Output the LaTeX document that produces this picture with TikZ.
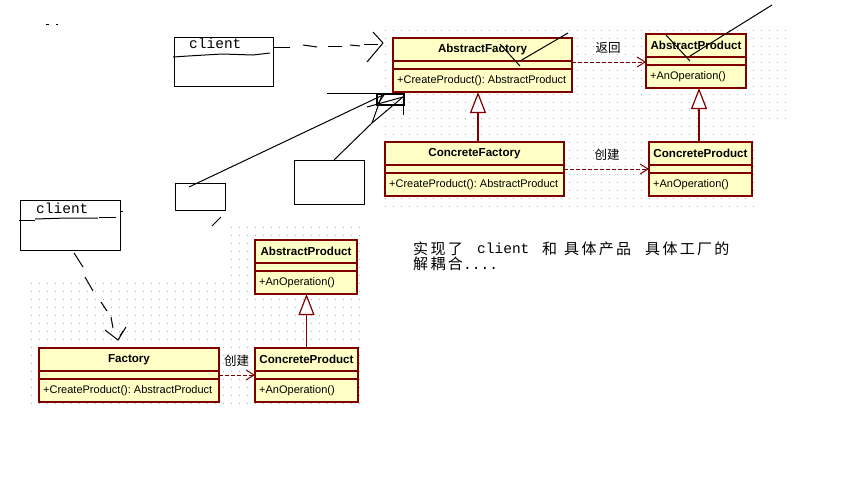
\documentclass[tikz,border=0pt]{standalone}
\usepackage{fontspec}
\setmainfont{Liberation Sans}
\newfontfamily\cjk{Noto Sans CJK SC}
\newfontfamily\monof{Liberation Mono}
\usetikzlibrary{arrows.meta}
\definecolor{umlfill}{RGB}{255,255,198}
\definecolor{umlline}{RGB}{128,0,0}
\definecolor{dotc}{RGB}{175,175,175}
\frenchspacing
\tikzset{
  classbox/.style={draw=umlline, fill=umlfill, line width=1.2pt, inner sep=0pt, outer sep=0pt},
  classline/.style={draw=umlline, line width=1.2pt},
  titletext/.style={inner sep=0pt, font=\fontsize{11.6}{13}\selectfont\bfseries},
  optext/.style={inner sep=0pt, font=\fontsize{11}{13}\selectfont},
  dep/.style={draw=umlline, line width=1pt, dash pattern=on 4pt off 2pt, -{Straight Barb[length=8pt,width=10pt,line width=1pt]}},
  inh/.style={draw=umlline, line width=1.2pt, -{Triangle[length=21pt,width=16pt,fill=white,line width=1.2pt]}},
  cjklabel/.style={inner sep=0pt, font=\cjk\fontsize{12.5}{14}\selectfont},
  bigcjk/.style={inner sep=0pt, anchor=base west, font=\cjk\fontsize{15}{17}\selectfont},
  monotext/.style={inner sep=0pt, anchor=base west, font=\monof\fontsize{14.5}{16}\selectfont},
  hand/.style={draw=black, line width=1pt},
  clientbox/.style={draw=black, line width=1pt, inner sep=0pt, outer sep=0pt},
}
\newcommand\umlclass[6]{%
  \node[classbox, minimum width=#4pt, minimum height=54pt, anchor=north west] (#1) at (#2,#3) {};
  \draw[classline] ([yshift=-23pt]#1.north west) -- ([yshift=-23pt]#1.north east);
  \draw[classline] ([yshift=-31pt]#1.north west) -- ([yshift=-31pt]#1.north east);
  \node[titletext] (#1-t) at ([yshift=-11.5pt]#1.north) {#5};
  \node[optext, anchor=west] (#1-o) at ([xshift=4pt,yshift=-42.5pt]#1.north west) {#6};
}
\newcommand\cc[1]{\makebox[17.3pt][l]{#1}}
\begin{document}
\begin{tikzpicture}[x=1pt,y=-1pt]
\useasboundingbox (0,0) rectangle (861,485);
\fill[white] (0,0) rectangle (861,485);
% grids
\foreach \x in {385,393,...,785} \foreach \y in {30,38,...,118} \fill[dotc] (\x,\y) rectangle ++(1,1);
\foreach \x in {385,393,...,753} \foreach \y in {126,134,...,206} \fill[dotc] (\x,\y) rectangle ++(1,1);
\foreach \x in {31,39,...,359} \foreach \y in {283,291,...,403} \fill[dotc] (\x,\y) rectangle ++(1,1);
\foreach \x in {231,239,...,359} \foreach \y in {227,235,...,275} \fill[dotc] (\x,\y) rectangle ++(1,1);

% classes
\umlclass{AF}{393}{38}{179}{AbstractFactory}{+CreateProduct(): AbstractProduct}
\umlclass{AP}{646}{34}{100}{AbstractProduct}{+AnOperation()}
\umlclass{CF}{385}{142}{179}{ConcreteFactory}{+CreateProduct(): AbstractProduct}
\umlclass{CP}{649}{142}{103}{ConcreteProduct}{+AnOperation()}
\umlclass{F}{39}{348}{180}{Factory}{+CreateProduct(): AbstractProduct}
\umlclass{APb}{255}{240}{102}{AbstractProduct}{+AnOperation()}
\umlclass{CPb}{255}{348}{103}{ConcreteProduct}{+AnOperation()}

% relations
\draw[dep] ([yshift=3pt]AF.east) -- ([yshift=-1pt]AP.west);
\node[cjklabel] (l1) at (608,47.5) {返回};
\draw[dep] (CF.east) -- (CP.west);
\node[cjklabel] (l2) at (607,154.5) {创建};
\draw[dep] (F.east) -- (CPb.west);
\node[cjklabel] (l3) at (236.5,360.5) {创建};
\draw[inh] ([xshift=3.5pt]CF.north) -- ([xshift=3.5pt]CF.north |- AF.south);
\draw[inh] ([xshift=-1.5pt]CP.north) -- ([xshift=-1.5pt]CP.north |- AP.south);
\draw[inh] (CPb.north) -- (CPb.north |- APb.south);

% text block
\node[bigcjk] (t1) at (413,254) {\cc{实}\cc{现}\cc{了}};
\node[monotext] (t2) at (477,253) {client};
\node[bigcjk] (t3) at (542,254) {和};
\node[bigcjk] (t4) at (564,254) {\cc{具}\cc{体}\cc{产}\cc{品}};
\node[bigcjk] (t5) at (645,254) {\cc{具}\cc{体}\cc{工}\cc{厂}\cc{的}};
\node[bigcjk] (t6) at (413,269) {\cc{解}\cc{耦}\cc{合}};
\node[monotext] (t7) at (463,269) {....};

% hand-drawn scribbles
\draw[hand] (46,24) -- (49,24);
\draw[hand] (56,24) -- (58,24);
% top client
\node[clientbox, minimum width=99pt, minimum height=49pt, anchor=north west] (c1) at (174,37) {};
\node[monotext] (c1t) at (189,48) {client};
\draw[hand] (173,57) -- (188,56) -- (222,54) -- (253,55) -- (270,53);
\draw[hand] (273,47) -- (290,47);
\draw[hand] (303,45) -- (317,47);
\draw[hand] (328,46) -- (342,46);
\draw[hand] (350,45) -- (360,46);
\draw[hand] (364,44) -- (378,44);
\draw[hand] (373,32) -- (383,43) -- (367,62);
% strokes over classes
\draw[hand] (500,44) -- (520,66);
\draw[hand] (520,61) -- (568,33);
\draw[hand] (666,35) -- (690,61);
\draw[hand] (690,56) -- (772,5);
% scribble near AbstractFactory
\draw[hand] (327,93) -- (388,93);
\draw[hand, line width=1.4pt] (377,94) rectangle (404,105);
\draw[hand] (403,94) -- (403,115);
\node[clientbox, minimum width=50pt, minimum height=27pt, anchor=north west] (r1) at (175,183) {};
\node[clientbox, minimum width=70pt, minimum height=44pt, anchor=north west] (r2) at (294,160) {};
\draw[hand] (189,187) -- (383,95);
\draw[hand] (334,160) -- (372,123) -- (403,97);
\draw[hand] (372,123) -- (382,95);
\draw[hand] (367,107) -- (403,97);
\draw[hand] (377,105) -- (384,95);
\draw[hand] (212,226) -- (221,217);
% bottom client
\node[clientbox, minimum width=100pt, minimum height=50pt, anchor=north west] (c2) at (20,200) {};
\node[monotext] (c2t) at (36,213) {client};
\draw[hand] (19,220) -- (35,220);
\draw[hand] (35,219) -- (67,218) -- (98,218);
\draw[hand] (99,217) -- (116,217);
\draw[hand] (120,211) -- (123,211);
\draw[hand] (74,253) -- (83,267);
\draw[hand] (85,277) -- (93,291);
\draw[hand] (101,302) -- (107,311);
\draw[hand] (111,317) -- (113,328);
\draw[hand] (105,330) -- (118,340) -- (126,327);
\draw[hand] (120,336) -- (123,331);
\end{tikzpicture}
\end{document}
